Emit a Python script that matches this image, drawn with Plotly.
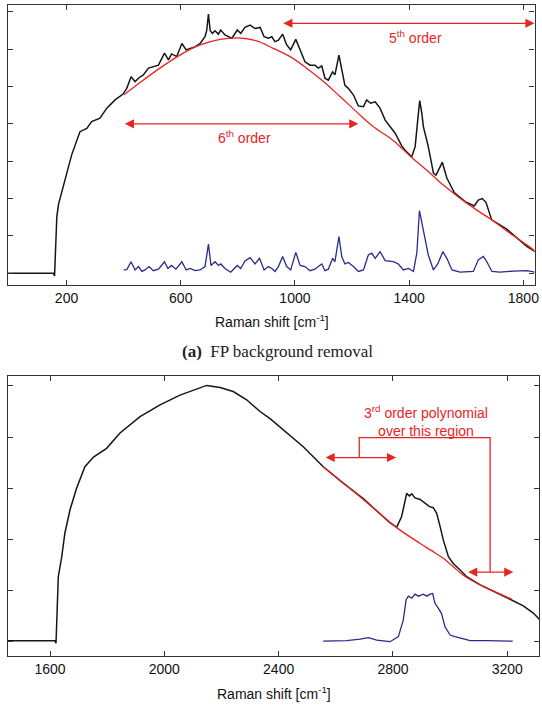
import plotly.graph_objects as go

# ---------------- data: panel (a) ----------------
a_black_x = [-5, 154, 158, 166, 172, 183, 200, 218, 247, 271, 288, 317, 341, 370, 397, 411, 426, 440, 455, 469,
             487, 504, 522, 543, 557, 568, 586, 604, 619, 633, 650, 668, 685, 691, 697, 703, 711, 720, 732, 740,
             755, 779, 798, 810, 825, 843, 860, 878, 892, 907, 919, 930, 942, 957, 971, 985, 1003, 1018, 1035,
             1053, 1070, 1082, 1094, 1105, 1117, 1132, 1140, 1154, 1164, 1175, 1187, 1205, 1222, 1240, 1251,
             1265, 1281, 1298, 1316, 1333, 1351, 1374, 1391, 1409, 1421, 1430, 1437, 1444, 1450, 1467, 1485,
             1494, 1505, 1516, 1532, 1558, 1596, 1628, 1642, 1656, 1669, 1689, 1742, 1782, 1812, 1841]
a_black_y = [0.0, 0.0, -0.07, 1.51, 1.85, 2.15, 2.68, 3.17, 3.79, 3.88, 4.06, 4.15, 4.42, 4.64, 4.79, 4.95, 5.26,
             5.13, 5.24, 5.31, 5.49, 5.53, 5.57, 5.89, 5.71, 5.87, 5.80, 6.15, 5.98, 6.02, 6.06, 6.15, 6.33, 6.50,
             6.94, 6.50, 6.42, 6.49, 6.40, 6.51, 6.38, 6.29, 6.51, 6.42, 6.58, 6.64, 6.55, 6.58, 6.33, 6.29, 6.33,
             6.20, 6.24, 6.40, 6.11, 5.98, 6.26, 5.98, 5.66, 5.57, 5.57, 5.49, 5.55, 5.22, 5.17, 5.39, 5.31, 5.84,
             5.44, 5.03, 4.95, 4.77, 4.48, 4.46, 4.64, 4.55, 4.59, 4.42, 4.10, 3.92, 3.75, 3.41, 3.25, 3.12, 3.39,
             4.10, 4.62, 4.30, 3.92, 3.39, 2.68, 2.63, 2.80, 2.97, 2.55, 2.16, 1.92, 1.80, 1.96, 2.00, 1.90, 1.43,
             1.18, 0.93, 0.72, 0.58]

a_fit_x = [400, 460, 527, 597, 668, 738, 800, 866, 924, 983, 1041, 1100, 1158, 1216, 1275, 1345, 1403, 1462,
           1520, 1578, 1637, 1695, 1753, 1812, 1840]
a_fit_y = [4.77, 5.12, 5.49, 5.84, 6.11, 6.26, 6.30, 6.22, 6.02, 5.80, 5.49, 5.13, 4.73, 4.32, 3.92, 3.55, 3.14,
           2.76, 2.36, 2.01, 1.69, 1.40, 1.07, 0.76, 0.60]

a_corr_x = [400, 411, 426, 440, 452, 464, 475, 489, 504, 522, 543, 555, 568, 583, 604, 619, 633, 650, 668, 685,
            697, 706, 720, 732, 740, 755, 775, 798, 810, 825, 843, 860, 876, 892, 907, 919, 930, 942, 957, 971,
            985, 1003, 1018, 1035, 1053, 1070, 1082, 1094, 1105, 1117, 1132, 1140, 1154, 1164, 1175, 1187, 1205,
            1222, 1240, 1257, 1269, 1281, 1298, 1316, 1345, 1362, 1380, 1398, 1415, 1427, 1436, 1450, 1467, 1485,
            1500, 1518, 1532, 1550, 1578, 1625, 1642, 1660, 1672, 1690, 1718, 1765, 1812, 1841]
a_corr_y = [0.09, 0.10, 0.31, 0.09, 0.18, 0.05, 0.09, 0.18, 0.07, 0.11, 0.31, 0.13, 0.21, 0.11, 0.31, 0.09, 0.13,
            0.07, 0.09, 0.18, 0.78, 0.21, 0.31, 0.21, 0.25, 0.13, 0.03, 0.21, 0.13, 0.33, 0.42, 0.25, 0.40, 0.09,
            0.18, 0.13, 0.05, 0.18, 0.45, 0.18, 0.09, 0.56, 0.21, 0.18, 0.07, 0.11, 0.18, 0.25, 0.07, 0.11, 0.40,
            0.31, 0.98, 0.45, 0.25, 0.29, 0.18, 0.05, 0.09, 0.49, 0.54, 0.40, 0.58, 0.34, 0.31, 0.25, 0.09, 0.13,
            0.05, 0.55, 1.68, 1.12, 0.49, 0.09, 0.25, 0.58, 0.40, 0.09, 0.03, 0.05, 0.36, 0.45, 0.31, 0.05, 0.03,
            0.06, 0.07, 0.03]

a_xticks = [200, 600, 1000, 1400, 1800]
a_arrow6 = [399, 1222, 4.0]     # x start, x end, y
a_arrow5 = [954, 1839, 6.69]

# ---------------- data: panel (b) ----------------
b_black_x = [1453, 1617, 1621, 1629, 1641, 1652, 1670, 1693, 1722, 1752, 1798, 1845, 1915, 1985, 2055, 2101,
             2148, 2195, 2241, 2288, 2335, 2370, 2428, 2486, 2556, 2626, 2696, 2755, 2790, 2813, 2830, 2848,
             2857, 2866, 2877, 2895, 2913, 2928, 2941, 2953, 2965, 2976, 2994, 3011, 3035, 3058, 3105, 3163,
             3210, 3256, 3291, 3312]
b_black_y = [0.02, 0.02, -0.03, 1.27, 1.66, 2.12, 2.58, 3.00, 3.42, 3.61, 3.78, 4.08, 4.40, 4.63, 4.82, 4.91,
             5.01, 4.97, 4.89, 4.73, 4.50, 4.36, 4.08, 3.81, 3.42, 3.10, 2.80, 2.51, 2.32, 2.24, 2.44, 2.90,
             2.85, 2.89, 2.81, 2.78, 2.71, 2.64, 2.62, 2.51, 2.25, 1.99, 1.66, 1.53, 1.40, 1.27, 1.11, 0.96,
             0.83, 0.70, 0.56, 0.44]

b_fit_x = [2556, 2626, 2696, 2755, 2813, 2895, 2935, 2976, 3010, 3046, 3116, 3216]
b_fit_y = [3.42, 3.10, 2.78, 2.50, 2.23, 1.92, 1.78, 1.63, 1.47, 1.30, 1.08, 0.83]

b_corr_x = [2556, 2638, 2685, 2714, 2743, 2790, 2819, 2836, 2846, 2854, 2866, 2877, 2889, 2906, 2918, 2930,
            2939, 2947, 2959, 2970, 2982, 3000, 3017, 3040, 3070, 3128, 3219]
b_corr_y = [0.01, 0.02, 0.05, 0.08, 0.03, 0.00, 0.10, 0.42, 0.82, 0.89, 0.85, 0.93, 0.89, 0.93, 0.89, 0.93,
            0.94, 0.75, 0.65, 0.55, 0.29, 0.13, 0.10, 0.07, 0.02, 0.02, 0.01]

b_xticks = [1600, 2000, 2400, 2800, 3200]
b_arrow_left = [2559, 2811, 3.60]
b_arrow_right = [3058, 3221, 1.36]
b_bracket_x = [2682, 2682, 3140, 3140]
b_bracket_y = [3.60, 3.99, 3.99, 1.36]

# ---------------- styling ----------------
BLACK = "#161616"
RED = "#e5251f"
BLUE = "#2a2a8c"
FONT = "Liberation Sans"

fig = go.Figure()
fig.add_trace(go.Scatter(x=a_black_x, y=a_black_y, mode="lines", line=dict(color=BLACK, width=1.5),
                         xaxis="x", yaxis="y", showlegend=False))
fig.add_trace(go.Scatter(x=a_fit_x, y=a_fit_y, mode="lines", line=dict(color=RED, width=1.3, shape="spline"),
                         xaxis="x", yaxis="y", showlegend=False))
fig.add_trace(go.Scatter(x=a_corr_x, y=a_corr_y, mode="lines", line=dict(color=BLUE, width=1.3),
                         xaxis="x", yaxis="y", showlegend=False))
fig.add_trace(go.Scatter(x=b_black_x, y=b_black_y, mode="lines", line=dict(color=BLACK, width=1.5),
                         xaxis="x2", yaxis="y2", showlegend=False))
fig.add_trace(go.Scatter(x=b_fit_x, y=b_fit_y, mode="lines", line=dict(color=RED, width=1.3, shape="spline"),
                         xaxis="x2", yaxis="y2", showlegend=False))
fig.add_trace(go.Scatter(x=b_corr_x, y=b_corr_y, mode="lines", line=dict(color=BLUE, width=1.3),
                         xaxis="x2", yaxis="y2", showlegend=False))

W, H = 542, 717
axis_common = dict(showline=True, mirror="ticks", linecolor="#333333", linewidth=1.3,
                   ticks="inside", ticklen=5, tickcolor="#333333", tickwidth=1,
                   showgrid=False, zeroline=False, automargin=False,
                   tickfont=dict(family=FONT, size=14, color="#111111"))

fig.update_layout(
    width=W, height=H, margin=dict(l=0, r=0, t=0, b=0),
    paper_bgcolor="white", plot_bgcolor="white",
    xaxis=dict(domain=[8 / W, 534.5 / W], range=[-5, 1839], anchor="y",
               tickvals=a_xticks, ticktext=[str(v) for v in a_xticks], **axis_common),
    yaxis=dict(domain=[1 - 285 / H, 1 - 5 / H], range=[-0.313, 7.18], anchor="x",
               tickvals=list(range(0, 8)), showticklabels=False, **axis_common),
    xaxis2=dict(domain=[8 / W, 539.3 / W], range=[1453, 3312], anchor="y2",
                tickvals=b_xticks, ticktext=[str(v) for v in b_xticks], **axis_common),
    yaxis2=dict(domain=[1 - 655.7 / H, 1 - 375.7 / H], range=[-0.274, 5.20], anchor="x2",
                tickvals=list(range(0, 6)), showticklabels=False, **axis_common),
)

ann = []


def dbl_arrow(xs, xe, y, xr, yr):
    return dict(x=xe, y=y, ax=xs, ay=y, xref=xr, yref=yr, axref=xr, ayref=yr, text="",
                showarrow=True, arrowside="end+start", arrowhead=2, arrowsize=1.4,
                arrowwidth=1.3, arrowcolor=RED, standoff=0, startstandoff=0)


ann.append(dbl_arrow(a_arrow6[0], a_arrow6[1], a_arrow6[2], "x", "y"))
ann.append(dbl_arrow(a_arrow5[0], a_arrow5[1], a_arrow5[2], "x", "y"))
ann.append(dbl_arrow(b_arrow_left[0], b_arrow_left[1], b_arrow_left[2], "x2", "y2"))
ann.append(dbl_arrow(b_arrow_right[0], b_arrow_right[1], b_arrow_right[2], "x2", "y2"))

red_font = dict(family=FONT, size=14, color=RED)
ann.append(dict(x=825, y=3.64, xref="x", yref="y", text="6<sup>th</sup> order", showarrow=False, font=red_font))
ann.append(dict(x=1423, y=6.33, xref="x", yref="y", text="5<sup>th</sup> order", showarrow=False, font=red_font))
ann.append(dict(x=2915, y=4.32, xref="x2", yref="y2",
                text="3<sup>rd</sup> order polynomial<br>over this region",
                showarrow=False, font=red_font))

title_font = dict(family=FONT, size=14, color="#111111")
ann.append(dict(x=272 / W, y=1 - 321 / H, xref="paper", yref="paper", text="Raman shift [cm<sup>-1</sup>]",
                showarrow=False, font=title_font, xanchor="center", yanchor="middle"))
ann.append(dict(x=274 / W, y=1 - 693 / H, xref="paper", yref="paper", text="Raman shift [cm<sup>-1</sup>]",
                showarrow=False, font=title_font, xanchor="center", yanchor="middle"))
ann.append(dict(x=277 / W, y=1 - 352 / H, xref="paper", yref="paper",
                text="<b>(a)</b>  FP background removal", showarrow=False,
                font=dict(family="Liberation Serif", size=17, color="#222222"),
                xanchor="center", yanchor="middle"))
fig.update_layout(annotations=ann)

path = "M {} {} L {} {} L {} {} L {} {}".format(b_bracket_x[0], b_bracket_y[0], b_bracket_x[1], b_bracket_y[1],
                                                b_bracket_x[2], b_bracket_y[2], b_bracket_x[3], b_bracket_y[3])
fig.add_shape(type="path", path=path, xref="x2", yref="y2", line=dict(color=RED, width=1.3))

fig.write_html("out.html")
